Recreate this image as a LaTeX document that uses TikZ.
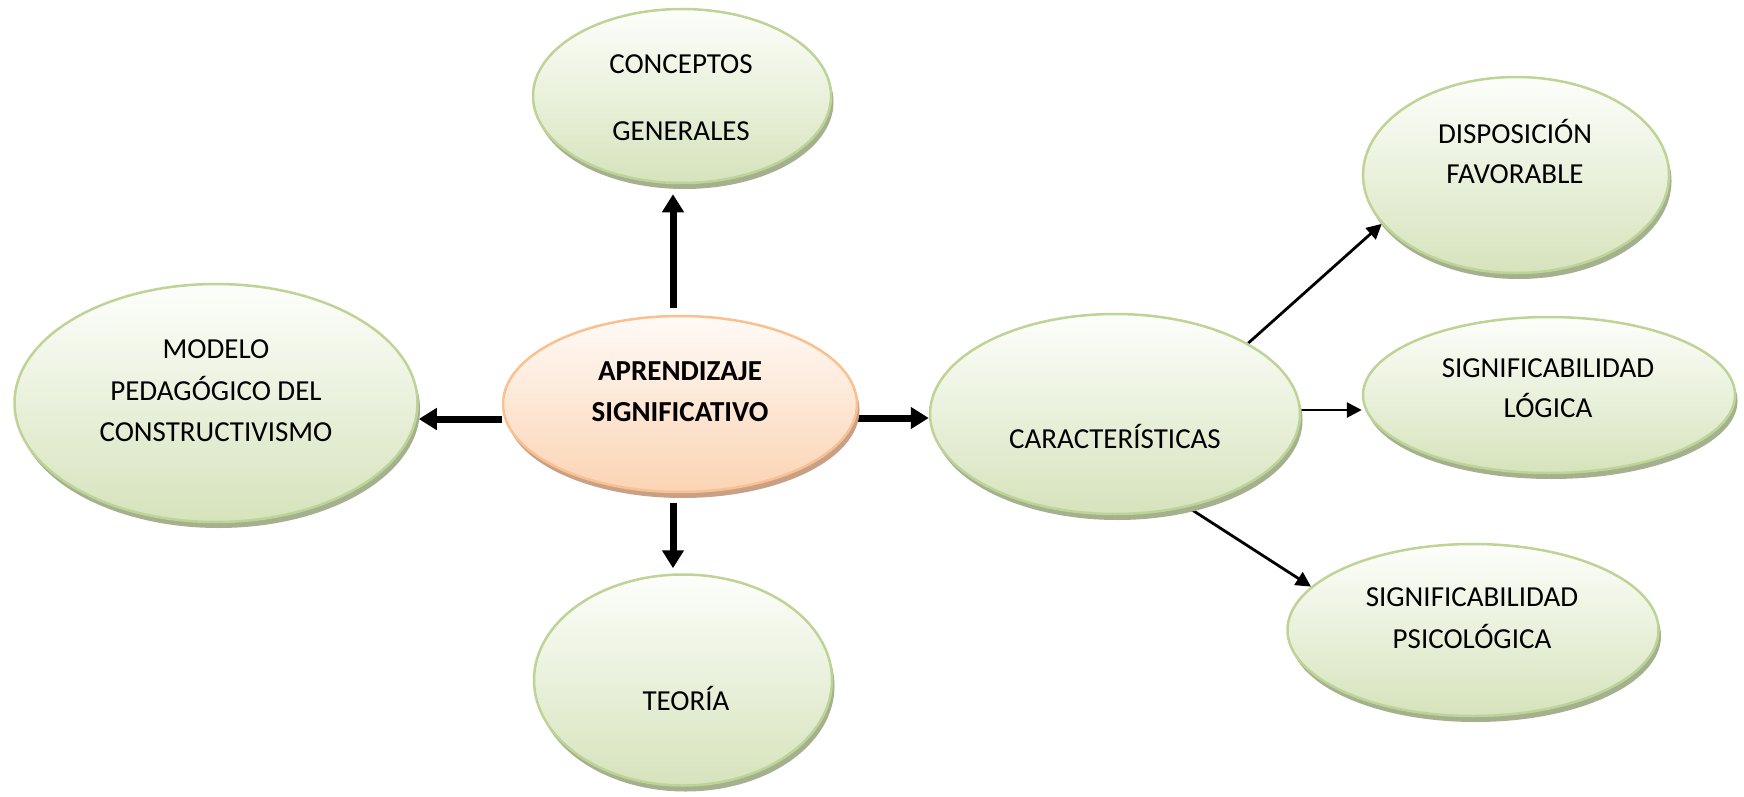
\documentclass[tikz,border=0pt]{standalone}
\usepackage{fontspec}
\setmainfont{Carlito}
\usetikzlibrary{shapes.geometric,arrows.meta,calc,shadows,backgrounds}
\definecolor{gTop}{RGB}{253,254,251}
\definecolor{gBot}{RGB}{214,227,188}
\definecolor{gBord}{RGB}{190,212,150}
\definecolor{gShad}{RGB}{164,176,142}
\definecolor{oTop}{RGB}{255,250,246}
\definecolor{oBot}{RGB}{251,212,180}
\definecolor{oBord}{RGB}{250,192,144}
\definecolor{oShad}{RGB}{200,160,135}
\begin{document}
\begin{tikzpicture}[x=1pt,y=-1pt,
  ellbase/.style={ellipse, inner sep=0pt, line width=2.5pt},
  greenell/.style={ellbase, draw=gBord, top color=gTop, bottom color=gBot,
    drop shadow={shadow xshift=2.5pt, shadow yshift=-6pt, fill=gShad, opacity=1}},
  orangeell/.style={ellbase, draw=oBord, top color=oTop, bottom color=oBot,
    drop shadow={shadow xshift=2.5pt, shadow yshift=-6pt, fill=oShad, opacity=1}},
  lbl/.style={align=center, inner sep=0pt, font=\fontsize{29}{41.5}\selectfont},
  bigarr/.style={line width=7pt, -{Triangle[length=18pt,width=21pt]}},
  smallarr/.style={line width=2.8pt, -{Triangle[length=15pt,width=15pt]}}
]
\useasboundingbox (0,0) rectangle (1744,797);
% ellipses
\node[greenell, minimum width=298pt, minimum height=174pt] (conc) at (682,96) {};
\node[greenell, minimum width=403pt, minimum height=238pt] (mod) at (216,403) {};
\node[orangeell, minimum width=354pt, minimum height=176pt] (apr) at (680,404) {};
\node[greenell, minimum width=370pt, minimum height=200pt] (car) at (1115,414) {};
\node[greenell, minimum width=306pt, minimum height=196pt] (disp) at (1516,175) {};
\node[greenell, minimum width=372pt, minimum height=156pt] (log) at (1549,395) {};
\node[greenell, minimum width=371pt, minimum height=172pt] (psico) at (1473,630) {};
\node[greenell, minimum width=298pt, minimum height=211pt] (teor) at (683,680) {};
% texts
\node[lbl] (conc-t) at (681,98.5) {\strut CONCEPTOS\\[25pt]GENERALES\strut};
\node[lbl] (mod-t) at (216,392) {\strut MODELO\\PEDAGÓGICO DEL\\CONSTRUCTIVISMO\strut};
\node[lbl, font=\fontsize{29}{41}\selectfont\bfseries] (apr-t) at (680,392.5) {\strut APRENDIZAJE\\SIGNIFICATIVO\strut};
\node[lbl] (car-t) at (1115,440) {\strut CARACTERÍSTICAS\strut};
\node[lbl, font=\fontsize{29}{40}\selectfont] (disp-t) at (1515,155) {\strut DISPOSICIÓN\\FAVORABLE\strut};
\node[lbl, font=\fontsize{29}{40}\selectfont] (log-t) at (1548,389) {\strut SIGNIFICABILIDAD\\LÓGICA\strut};
\node[lbl, font=\fontsize{29}{42}\selectfont] (psico-t) at (1472,619) {\strut SIGNIFICABILIDAD\\PSICOLÓGICA\strut};
\node[lbl] (teor-t) at (686,702) {\strut TEORÍA\strut};
% connectors
\begin{pgfonlayer}{background}
\draw[bigarr] ($(apr.north)+(-7,-7)$) -- ($(apr.north |- conc.south)+(-7,10)$);
\draw[bigarr] ($(apr.west)+(0,15)$) -- ($(apr.west -| mod.east)+(0,15)$);
\draw[bigarr] ($(apr.east)+(0,14)$) -- ($(apr.east -| car.west)+(0,14)$);
\draw[bigarr] ($(apr.south)+(-7,10)$) -- ($(apr.south |- teor.north)+(-7,-5)$);
\draw[smallarr] (car.28) -- (disp.200);
\draw[smallarr] ($(car.east)+(0,-4)$) -- ($(car.east -| log.west)+(0,-4)$);
\draw[smallarr] (car.308) -- (psico.165);
\end{pgfonlayer}
\end{tikzpicture}
\end{document}
